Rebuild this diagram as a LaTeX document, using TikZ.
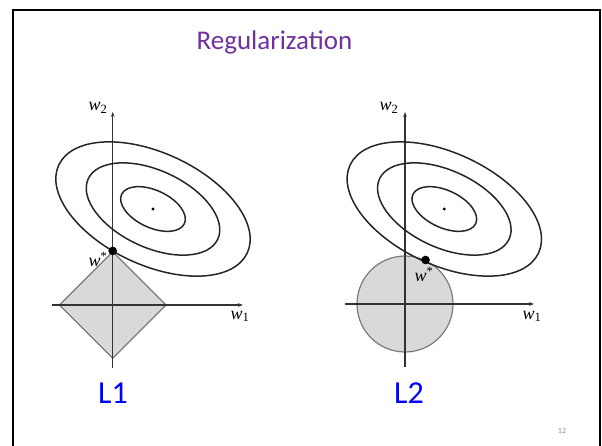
\documentclass[tikz,border=0pt]{standalone}
\usepackage{fontspec}
\setmainfont{Carlito}
\newfontfamily\wfont{Liberation Serif}
\usepackage{tikz}
\usetikzlibrary{positioning,shapes.geometric,arrows.meta}
\definecolor{titlepurple}{HTML}{7030A0}
\definecolor{labelblue}{HTML}{0000FF}
\definecolor{ballfill}{HTML}{D9D9DB}
\definecolor{ballline}{HTML}{7A7A7A}

\begin{document}
\begin{tikzpicture}[x=1pt,y=-1pt,
      axis/.style={draw=black!80,line width=1.1pt,-{Stealth[length=5pt,width=3.6pt]}},
      level/.style={draw=black!85,line width=1.5pt},
      ball/.style={draw=ballline,fill=ballfill,line width=1.2pt,inner sep=0pt},
      wlabel/.style={font=\wfont\itshape\fontsize{18}{18}\selectfont,inner sep=0pt,anchor=base},
      normlabel/.style={font=\fontsize{32}{32}\selectfont,text=labelblue,inner sep=0pt,anchor=base}]
      \useasboundingbox (0,0) rectangle (602,446);
      \draw[line width=2pt] (12.5,446) -- (12.5,10) -- (599.5,10) -- (599.5,446);
      \node[font=\fontsize{27}{27}\selectfont,text=titlepurple,anchor=base,inner sep=0pt] (title) at (274.5,50) {Regularization};
      % L1 panel
      \coordinate (oA) at (112.7,305);
      \coordinate (cA) at (153,209);
      \node[ball,diamond,aspect=1,minimum size=107pt] (lone ball) at (oA) {};
      \coordinate (xA0) at (52,305); \coordinate (xA1) at (243,305);
      \coordinate (yA0) at (112.7,368); \coordinate (yA1) at (112.7,112);
      \draw[axis] (xA0) -- (xA1); \draw[axis] (yA0) -- (yA1);
      \foreach \s in {1,0.687,0.333}
        \draw[level,rotate around={-25:(cA)}] (cA) ellipse [x radius={\s*104pt}, y radius={\s*56pt}];
      \fill (cA) circle (1.6);
      \fill (lone ball.north) circle (4.3);
      \node[wlabel] (wtwoA) at (98,111) {w\textsubscript{\upshape 2}};
      \node[wlabel] (woneA) at (240,319) {w\textsubscript{\upshape 1}};
      \node[wlabel] (wstarA) at (98,267) {w\textsuperscript{\upshape *}};
      \node[normlabel] (lone) at (113,403) {L1};
      % L2 panel
      \coordinate (oB) at (405,304);
      \coordinate (cB) at (444.3,209);
      \node[ball,circle,minimum size=96pt] (ltwo ball) at (oB) {};
      \coordinate (xB0) at (345,304); \coordinate (xB1) at (534,304);
      \coordinate (yB0) at (405,367); \coordinate (yB1) at (405,112);
      \draw[axis] (xB0) -- (xB1); \draw[axis] (yB0) -- (yB1);
      \foreach \s in {1,0.687,0.333}
        \draw[level,rotate around={-25:(cB)}] (cB) ellipse [x radius={\s*104pt}, y radius={\s*56pt}];
      \fill (cB) circle (1.6);
      \fill (ltwo ball.65) circle (4.3);
      \node[wlabel] (wtwoB) at (389,111) {w\textsubscript{\upshape 2}};
      \node[wlabel] (woneB) at (532,319) {w\textsubscript{\upshape 1}};
      \node[wlabel] (wstarB) at (424,282) {w\textsuperscript{\upshape *}};
      \node[normlabel] (ltwo) at (409,403) {L2};
      \node[font=\fontsize{8}{8}\selectfont,text=black!45,anchor=base] (pagenum) at (562,433) {12};
    \end{tikzpicture}
\end{document}
